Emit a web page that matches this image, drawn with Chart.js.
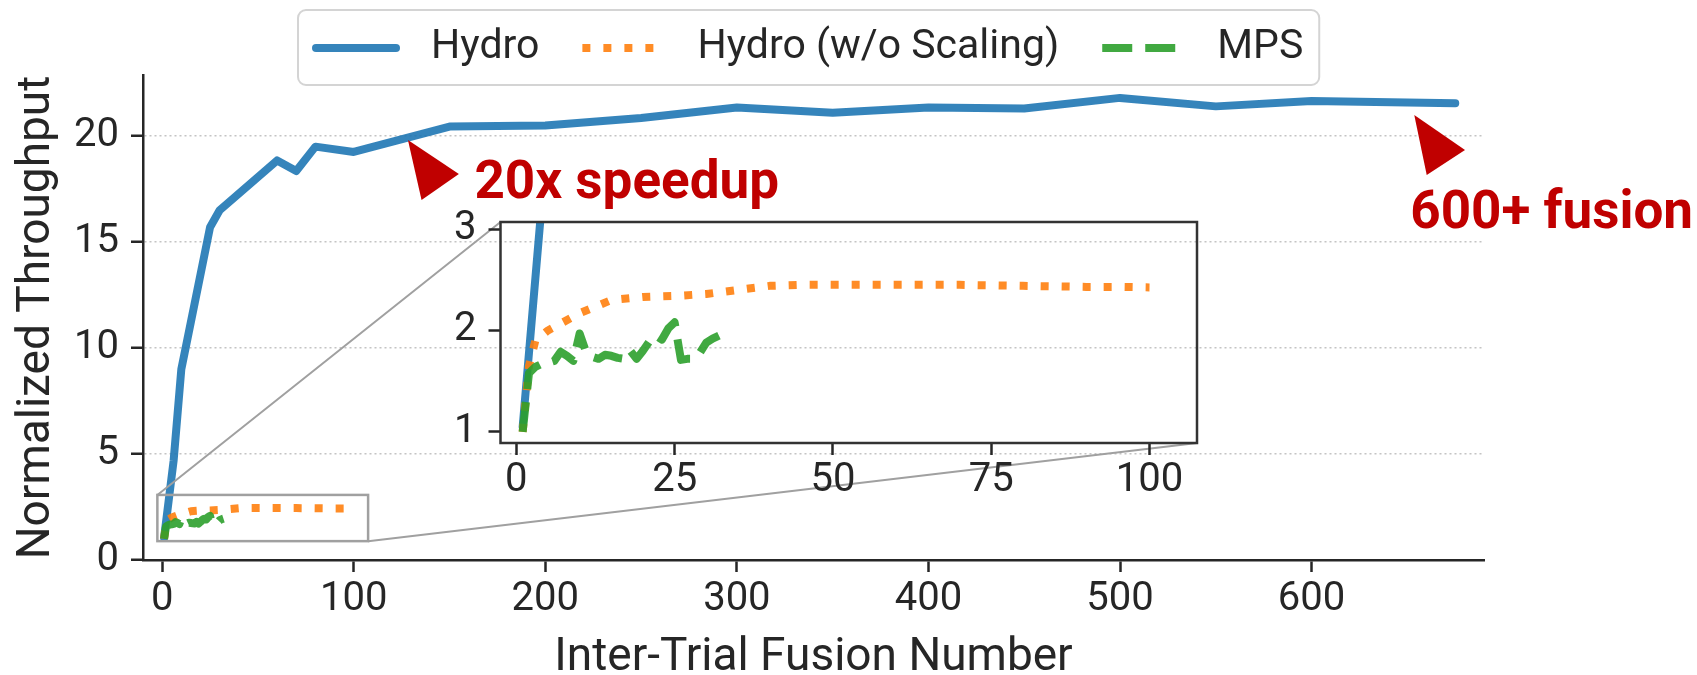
<!DOCTYPE html>
<html lang="en">
<head>
  <meta charset="UTF-8">
  <title>Inter-Trial Fusion Throughput</title>
  <script src="https://cdn.jsdelivr.net/npm/chart.js@4"></script>
  <style>
    html, body { margin: 0; padding: 0; background: #fff; }
    #wrap { position: relative; width: 1697px; height: 675px; }
    #wrap canvas { position: absolute; left: 0; top: 0; }
  </style>
</head>
<body>
  <div id="wrap">
    <canvas id="main" width="1697" height="675"></canvas>
    <canvas id="inset" width="1697" height="675"></canvas>
  </div>

  <script>
    // data
    const hydroX = [1, 6, 10, 25, 30, 60, 70, 80, 100, 150, 200, 250, 300, 350, 400, 450, 500, 550, 600, 675];
    const hydroY = [1.05, 4.7, 9.0, 15.7, 16.5, 18.85, 18.35, 19.5, 19.25, 20.45, 20.5, 20.85, 21.35, 21.1, 21.35, 21.3, 21.8, 21.4, 21.65, 21.55];

    const noScaleX = [1, 2, 3, 5, 10, 15, 20, 25, 30, 35, 40, 45, 50, 55, 60, 65, 70, 75, 80, 85, 90, 95, 100];
    const noScaleY = [1.0, 1.65, 1.9, 2.0, 2.17, 2.3, 2.33, 2.34, 2.36, 2.4, 2.44, 2.45, 2.45, 2.45, 2.45, 2.45, 2.45, 2.445, 2.44, 2.435, 2.43, 2.43, 2.425];

    const mpsX = [1, 2, 3, 4, 5, 6, 7, 8, 9, 10, 11, 12, 13, 14, 15, 16, 17, 18, 19, 20, 21, 22, 23, 24, 25, 26, 27, 28, 29, 30, 31, 32];
    const mpsY = [1.0, 1.58, 1.64, 1.67, 1.68, 1.7, 1.79, 1.75, 1.7, 1.97, 1.79, 1.74, 1.72, 1.76, 1.75, 1.73, 1.72, 1.8, 1.72, 1.8, 1.89, 1.95, 1.91, 2.02, 2.08, 1.71, 1.72, 1.72, 1.78, 1.88, 1.92, 1.95];

    const xTicks = [0, 100, 200, 300, 400, 500, 600];
    const yTicks = [0, 5, 10, 15, 20];
    const insetXTicks = [0, 25, 50, 75, 100];
    const insetYTicks = [1, 2, 3];

    const TEXT = '#262626';
    const AXIS = '#262626';
    const RED = '#c00000';
    const FONT = 'Roboto';

    // annotation arrows + labels, in data units of the big axes
    const notes = [
      { text: '20x speedup', x: 163, y: 17.06, tri: [[128.3, 19.81], [154.9, 18.21], [135.4, 16.98]] },
      { text: '600+ fusion', x: 651.5, y: 15.65, tri: [[653.6, 20.99], [680.1, 19.34], [660.1, 18.16]] }
    ];

    function pts(xs, ys) {
      return xs.map((x, i) => ({ x: x, y: ys[i] }));
    }

    function makeDatasets(clip) {
      const common = { pointRadius: 0, fill: false, tension: 0, borderWidth: 8, borderJoinStyle: 'round' };
      const ds = [
        Object.assign({}, common, { label: 'Hydro', data: pts(hydroX, hydroY), borderColor: 'rgba(31,119,180,0.9)', borderCapStyle: 'round', order: 2 }),
        Object.assign({}, common, { label: 'Hydro (w/o Scaling)', data: pts(noScaleX, noScaleY), borderColor: 'rgba(255,127,14,0.9)', borderDash: [8, 13], borderCapStyle: 'butt', order: 1 }),
        Object.assign({}, common, { label: 'MPS', data: pts(mpsX, mpsY), borderColor: 'rgba(44,160,44,0.9)', borderDash: [30, 13], borderCapStyle: 'butt', order: 0 })
      ];
      if (clip !== undefined) ds.forEach(d => { d.clip = clip; });
      return ds;
    }

    function fixTicks(list) {
      return axis => { axis.ticks = list.map(v => ({ value: v })); };
    }

    const tickFont = { family: FONT, size: 40 };

    // ---- inset (drawn on its own transparent canvas on top) ----
    const insetFrame = {
      id: 'insetFrame',
      afterDatasetsDraw(chart) {
        const a = chart.chartArea, ctx = chart.ctx;
        ctx.save();
        ctx.strokeStyle = '#333';
        ctx.lineWidth = 2.5;
        ctx.strokeRect(a.left, a.top, a.right - a.left, a.bottom - a.top);
        ctx.restore();
      }
    };

    const insetChart = new Chart(document.getElementById('inset'), {
      type: 'line',
      data: { datasets: makeDatasets(0) },
      options: {
        responsive: false,
        animation: false,
        layout: { padding: { left: 440, top: 222, right: 500, bottom: 172 } },
        plugins: { legend: { display: false }, tooltip: { enabled: false } },
        scales: {
          x: {
            type: 'linear', min: -2.5, max: 107.5,
            afterBuildTicks: fixTicks(insetXTicks),
            afterFit: s => { s.height = 60; },
            grid: { drawOnChartArea: false, tickLength: 12, tickWidth: 2.5, tickColor: AXIS },
            border: { display: false },
            ticks: { color: TEXT, font: tickFont, padding: 2, maxRotation: 0, autoSkip: false }
          },
          y: {
            type: 'linear', min: 0.89, max: 3.07,
            afterBuildTicks: fixTicks(insetYTicks),
            afterFit: s => { s.width = 60.5; },
            grid: { drawOnChartArea: false, tickLength: 12, tickWidth: 2.5, tickColor: AXIS },
            border: { display: false },
            ticks: { color: TEXT, font: tickFont, padding: 12 }
          }
        }
      },
      plugins: [insetFrame]
    });

    // ---- main chart extras: zoom box, connectors, annotations, legend ----
    function drawLegend(chart) {
      const ctx = chart.ctx;
      const left = 298, top = 10, h = 75, midY = top + h / 2 + 0.5;
      ctx.save();
      ctx.font = '41px ' + FONT;
      let x = left + 18;
      const spots = chart.data.datasets.map(d => {
        const s = { d: d, x: x, tx: x + 80 + 35 };
        x = s.tx + ctx.measureText(d.label).width + 43;
        return s;
      });
      const right = x - 43 + 16;

      ctx.fillStyle = 'rgba(255,255,255,0.9)';
      ctx.strokeStyle = '#d4d4d4';
      ctx.lineWidth = 2;
      ctx.beginPath();
      ctx.roundRect(left, top, right - left, h, 8);
      ctx.fill();
      ctx.stroke();

      spots.forEach(s => {
        ctx.save();
        ctx.strokeStyle = s.d.borderColor;
        ctx.lineWidth = s.d.borderWidth;
        ctx.lineCap = s.d.borderCapStyle;
        ctx.setLineDash(s.d.borderDash || []);
        ctx.beginPath();
        ctx.moveTo(s.x, midY);
        ctx.lineTo(s.x + 80, midY);
        ctx.stroke();
        ctx.restore();
        ctx.fillStyle = TEXT;
        ctx.textBaseline = 'middle';
        ctx.textAlign = 'left';
        ctx.fillText(s.d.label, s.tx, midY);
      });
      ctx.restore();
    }

    const mainExtras = {
      id: 'mainExtras',
      afterDatasetsDraw(chart) {
        const ctx = chart.ctx, xs = chart.scales.x, ys = chart.scales.y;
        const ix = insetChart.scales.x, iy = insetChart.scales.y, ia = insetChart.chartArea;

        // box marking the zoomed region + connector lines
        const bx1 = xs.getPixelForValue(ix.min), bx2 = xs.getPixelForValue(ix.max);
        const by1 = ys.getPixelForValue(iy.max), by2 = ys.getPixelForValue(iy.min);
        ctx.save();
        ctx.strokeStyle = '#a0a0a0';
        ctx.lineWidth = 2.5;
        ctx.strokeRect(bx1, by1, bx2 - bx1, by2 - by1);
        ctx.lineWidth = 2;
        ctx.beginPath();
        ctx.moveTo(bx1, by1); ctx.lineTo(ia.left, ia.top);
        ctx.moveTo(bx2, by2); ctx.lineTo(ia.right, ia.bottom);
        ctx.stroke();
        ctx.restore();

        // red arrow heads and labels
        ctx.save();
        ctx.fillStyle = RED;
        ctx.font = 'bold 53px ' + FONT;
        ctx.textBaseline = 'alphabetic';
        notes.forEach(n => {
          ctx.beginPath();
          n.tri.forEach((p, i) => {
            const px = xs.getPixelForValue(p[0]), py = ys.getPixelForValue(p[1]);
            if (i === 0) ctx.moveTo(px, py); else ctx.lineTo(px, py);
          });
          ctx.closePath();
          ctx.fill();
          ctx.fillText(n.text, xs.getPixelForValue(n.x), ys.getPixelForValue(n.y));
        });
        ctx.restore();
      },
      afterDraw(chart) {
        drawLegend(chart);
      }
    };

    const mainChart = new Chart(document.getElementById('main'), {
      type: 'line',
      data: { datasets: makeDatasets() },
      options: {
        responsive: false,
        animation: false,
        layout: { padding: { left: 0, top: 75, right: 213, bottom: 0 } },
        plugins: { legend: { display: false }, tooltip: { enabled: false } },
        scales: {
          x: {
            type: 'linear', min: -10, max: 690,
            afterBuildTicks: fixTicks(xTicks),
            afterFit: s => { s.height = 115; },
            grid: { drawOnChartArea: false, tickLength: 12, tickWidth: 2.5, tickColor: AXIS },
            border: { color: AXIS, width: 2.5 },
            ticks: { color: TEXT, font: tickFont, padding: 4, maxRotation: 0, autoSkip: false },
            title: {
              display: true, text: 'Inter-Trial Fusion Number', color: TEXT,
              font: { family: FONT, size: 46, lineHeight: 0.66 },
              padding: { top: 0, bottom: 1 }
            }
          },
          y: {
            type: 'linear', min: 0, max: 22.88,
            afterBuildTicks: fixTicks(yTicks),
            afterFit: s => { s.width = 143; },
            grid: { color: '#c4c4c4', lineWidth: 1.5, tickLength: 12, tickWidth: 2.5, tickColor: AXIS, tickBorderDash: [] },
            border: { color: AXIS, width: 2.5, dash: [2, 3] },
            ticks: { color: TEXT, font: tickFont, padding: 12 },
            title: {
              display: true, text: 'Normalized Throughput', color: TEXT,
              font: { family: FONT, size: 46, lineHeight: 0.8 },
              padding: { top: 19, bottom: 0 }
            }
          }
        }
      },
      plugins: [mainExtras]
    });
  </script>
</body>
</html>
